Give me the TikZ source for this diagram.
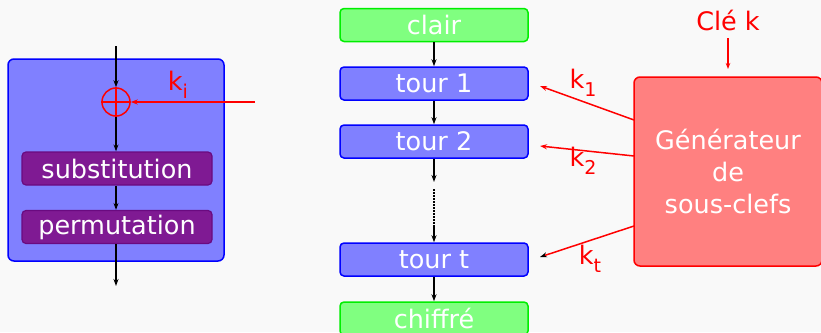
\documentclass[tikz,border=0pt]{standalone}
\usepackage{fontspec}
\setmainfont{DejaVu Sans}
\usetikzlibrary{arrows.meta}
\definecolor{bgc}{HTML}{F9F9F9}
\definecolor{roundfill}{HTML}{8080FF}
\definecolor{greenfill}{HTML}{80FF80}
\definecolor{greenedge}{HTML}{00EE00}
\definecolor{purplefill}{HTML}{7F1A93}
\definecolor{purpleedge}{HTML}{6A0A80}
\definecolor{genfill}{HTML}{FF8080}
\newcommand{\kk}[1]{k\raisebox{-0.3em}{\fontsize{19}{19}\selectfont #1}}
\begin{document}
\begin{tikzpicture}[x=1pt,y=-1pt,
  every node/.style={font=\fontsize{25.5}{32}\selectfont},
  arr/.style={-{Stealth[length=7pt,width=5pt]},line width=1.5pt},
  bluebox/.style={draw=blue,fill=roundfill,rounded corners=4pt,line width=1.5pt,minimum width=188pt,minimum height=33pt,inner sep=0pt,text=white},
  greenbox/.style={draw=greenedge,fill=greenfill,rounded corners=4pt,line width=1.5pt,minimum width=188pt,minimum height=33pt,inner sep=0pt,text=white},
  purplebox/.style={draw=purpleedge,fill=purplefill,rounded corners=4pt,line width=1.2pt,minimum width=190pt,minimum height=33pt,inner sep=0pt,text=white},
  redarr/.style={red,line width=1.5pt,-{Stealth[length=7pt,width=5pt]}},
  redlbl/.style={text=red,inner sep=0pt}
]
\fill[bgc] (0,0) rectangle (821,332);
\useasboundingbox (0,0) rectangle (821,332);

% left round detail
\node[draw=blue,fill=roundfill,rounded corners=6pt,line width=1.5pt,minimum width=216pt,minimum height=202pt,inner sep=0pt] (round) at (116,160) {};
\coordinate (top) at (116,46);
\coordinate (bot) at (116,286);
\node[draw=red,circle,line width=1.5pt,minimum size=28pt,inner sep=0pt] (xor) at (116,102) {};
\draw[red,line width=1.5pt] (xor.north) -- (xor.south) (xor.west) -- (xor.east);
\node[purplebox] (sub) at (117,168.5) {substitution};
\node[purplebox] (perm) at (117,227) {permutation};
\draw[arr] (top) -- (xor.north);
\draw[arr] (xor.south) -- (sub.north -| xor.south);
\draw[arr] (sub.south -| xor.south) -- (perm.north -| xor.south);
\draw[arr] (perm.south -| xor.south) -- (bot);
\coordinate (kin) at (255,102);
\draw[redarr] (kin) -- (xor.east);
\node[redlbl] (ki) at (178,85) {\kk{i}};

% middle column
\node[greenbox] (clair) at (434,25) {clair};
\node[bluebox] (t1) at (434,83.5) {tour 1};
\node[bluebox] (t2) at (434,141.5) {tour 2};
\node[bluebox] (tt) at (434,259.5) {tour t};
\node[greenbox] (chif) at (434,318.5) {chiffré};
\coordinate (d1) at (434,182);
\coordinate (d2) at (434,189);
\coordinate (d3) at (434,228);
\coordinate (d4) at (434,226);
\draw[arr] (clair) -- (t1);
\draw[arr] (t1) -- (t2);
\draw[arr] (t2) -- (d1);
\draw[line width=1.5pt,dash pattern=on 1.5pt off 1.5pt] (d2) -- (d3);
\draw[arr] (d4) -- (tt.north);
\draw[arr] (tt) -- (chif);

% generator
\node[draw=red,fill=genfill,rounded corners=6pt,line width=1.5pt,minimum width=188pt,minimum height=189pt,inner sep=0pt,text=white,align=center] (gen) at (728,171.5) {Générateur\\de\\sous-clefs};
\node[redlbl] (cle) at (728,20) {Clé k};
\coordinate (c1) at (728,38);
\coordinate (c2) at (728,69);
\draw[red,line width=1.5pt,-{Stealth[length=6pt,width=4.5pt]}] (c1) -- (c2);
\coordinate (g1) at (634,120);
\coordinate (g2) at (634,156);
\coordinate (g3) at (634,226);
\coordinate (e1) at (540,86);
\coordinate (e2) at (540,146);
\coordinate (e3) at (540,257);
\draw[redarr] (g1) -- (e1);
\draw[redarr] (g2) -- (e2);
\draw[red,line width=1.5pt,-{Stealth[length=7pt,width=5pt,color=black]}] (g3) -- (e3);
\node[redlbl] (k1) at (583,83) {\kk{1}};
\node[redlbl] (k2) at (583,161) {\kk{2}};
\node[redlbl] (kt) at (590,259) {\kk{t}};
\end{tikzpicture}
\end{document}
